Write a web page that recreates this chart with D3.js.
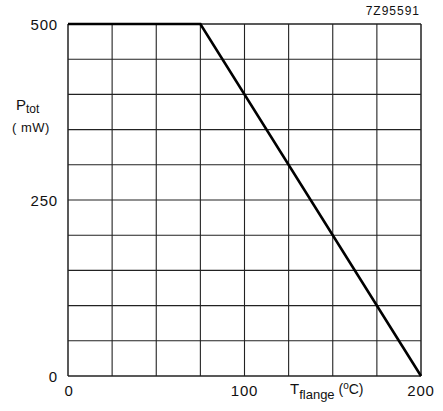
<!DOCTYPE html>
<html><head><meta charset="utf-8">
<script src="https://cdn.jsdelivr.net/npm/d3@7"></script>
<style>
html,body{margin:0;padding:0;background:#fff;}
svg{display:block;font-family:"Liberation Sans",Arial,sans-serif;}
</style></head>
<body><svg id="c" width="443" height="411"></svg>
<script>
const tempC = [0, 75, 200];
const powerMW = [500, 500, 0];
const xTickVals = [0, 100, 200];
const yTickVals = [0, 250, 500];
const xGrid = [0,25,50,75,100,125,150,175,200];
const yGrid = [0,50,100,150,200,250,300,350,400,450,500];
const chartCode = "7Z95591";

const svg = d3.select("#c");
const L=68, R=421, T=24, B=376;
const x = d3.scaleLinear().domain([0,200]).range([L,R]);
const y = d3.scaleLinear().domain([0,500]).range([B,T]);

const g = svg.append("g");
g.selectAll(".vg").data(xGrid).join("line")
  .attr("x1",d=>x(d)).attr("x2",d=>x(d)).attr("y1",T).attr("y2",B)
  .attr("stroke","#222").attr("stroke-width",d=>(d===0||d===200)?1.5:1.1);
g.selectAll(".hg").data(yGrid).join("line")
  .attr("y1",d=>y(d)).attr("y2",d=>y(d)).attr("x1",L).attr("x2",R)
  .attr("stroke","#222").attr("stroke-width",d=>(d===0||d===500)?1.5:1.1);

const line = d3.line().x(d=>x(d[0])).y(d=>y(d[1]));
g.append("path").datum(tempC.map((t,i)=>[t,powerMW[i]]))
  .attr("d",line).attr("fill","none").attr("stroke","#000").attr("stroke-width",2.6)
  .attr("stroke-linejoin","miter");

// y tick labels
svg.selectAll(".yt").data(yTickVals).join("text")
  .attr("x",L-10).attr("y",d=>y(d)+5.5).attr("text-anchor","end")
  .attr("font-size",15).attr("letter-spacing",0.8).attr("fill","#111").text(d=>d);
// x tick labels
svg.selectAll(".xt").data(xTickVals).join("text")
  .attr("x",d=>x(d)+(d===0?1:0)).attr("y",396).attr("text-anchor","middle")
  .attr("font-size",15).attr("letter-spacing",0.8).attr("fill","#111").text(d=>d);

// y label
const yl = svg.append("text").attr("x",16).attr("y",110).attr("font-size",15).attr("fill","#111");
yl.append("tspan").text("P");
yl.append("tspan").attr("font-size",12).attr("dy",3).text("tot");
svg.append("text").attr("x",12).attr("y",132).attr("font-size",13).attr("fill","#111")
  .attr("letter-spacing",0.5).text("( mW)");

// x label
const xl = svg.append("text").attr("x",290).attr("y",394).attr("font-size",15).attr("fill","#111");
xl.append("tspan").text("T");
xl.append("tspan").attr("font-size",13).attr("dy",5).text("flange");
xl.append("tspan").attr("font-size",14).attr("dy",-5).text(" (");
xl.append("tspan").attr("font-size",10).attr("dy",-5).text("o");
xl.append("tspan").attr("font-size",14).attr("dy",5).text("C)");

svg.append("text").attr("x",420).attr("y",15).attr("text-anchor","end")
  .attr("font-size",12).attr("letter-spacing",1).attr("fill","#111").text(chartCode);
</script></body></html>
